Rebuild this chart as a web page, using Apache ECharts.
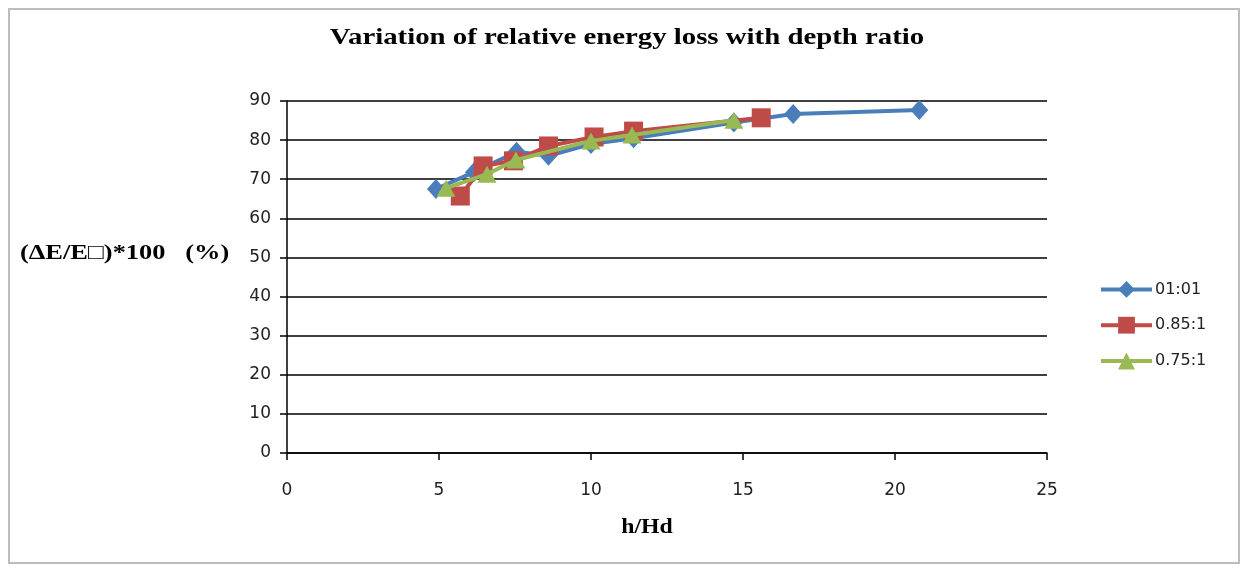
<!DOCTYPE html>
<html>
<head>
<meta charset="utf-8">
<script src="https://cdn.jsdelivr.net/npm/echarts@6/dist/echarts.min.js"></script>
<style>
html,body{margin:0;padding:0;background:#fff;}
#frame{position:absolute;left:8px;top:8px;width:1232px;height:556px;border:2px solid #bdbdbd;box-sizing:border-box;}
#c{position:absolute;left:0;top:0;width:1245px;height:570px;}
</style>
</head>
<body>
<div id="frame"></div>
<div id="c"></div>
<script>
const seriesNames = ['01:01', '0.85:1', '0.75:1'];
const xBlue = [4.9, 6.15, 7.55, 8.6, 10.0, 11.4, 14.7, 16.65, 20.8];
const yBlue = [67.5, 71.8, 77.0, 76.0, 79.0, 80.5, 84.5, 86.7, 87.7];
const xRed = [5.7, 6.45, 7.45, 8.6, 10.1, 11.4, 15.6];
const yRed = [65.7, 73.4, 74.7, 78.5, 80.8, 82.3, 85.7];
const xGreen = [5.23, 6.58, 7.53, 10.0, 11.35, 14.7];
const yGreen = [67.7, 71.3, 74.9, 79.8, 81.3, 85.1];
const xTicks = [0, 5, 10, 15, 20, 25];
const yTicks = [0, 10, 20, 30, 40, 50, 60, 70, 80, 90];
const titleText = 'Variation of relative energy loss with depth ratio';
const xName = 'h/Hd';
const yName = '(\u0394E/E\u25A1)*100   (%)';

const colors = ['#4a7ebb', '#be4b48', '#98b954'];
const symbols = ['diamond', 'rect', 'triangle'];
const symSizes = [[18, 20], [19, 19], [19, 17]];
const xs = [xBlue, xRed, xGreen];
const ys = [yBlue, yRed, yGreen];

const chart = echarts.init(document.getElementById('c'));
const tickFont = {fontFamily: 'DejaVu Sans', fontSize: 17, color: '#222'};
chart.setOption({
  animation: false,
  backgroundColor: 'transparent',
  grid: {left: 287, right: 198, top: 101, bottom: 117},
  legend: {
    orient: 'vertical', left: 1094, top: 276, itemWidth: 51, itemHeight: 21, itemGap: 19,
    lineStyle: {width: 4},
    textStyle: {fontFamily: 'DejaVu Sans', fontSize: 16, color: '#222', padding: [0, 0, 0, -2]},
    data: seriesNames
  },
  xAxis: {
    type: 'value', min: xTicks[0], max: xTicks[xTicks.length - 1], interval: 5,
    axisLine: {lineStyle: {color: '#000', width: 1.5}},
    axisTick: {show: true, length: 7, lineStyle: {color: '#000', width: 1.5}},
    axisLabel: Object.assign({margin: 29}, tickFont),
    splitLine: {show: false}
  },
  yAxis: {
    type: 'value', min: yTicks[0], max: yTicks[yTicks.length - 1], interval: 10,
    axisLine: {show: true, lineStyle: {color: '#000', width: 1.5}},
    axisTick: {show: true, length: 7, lineStyle: {color: '#000', width: 1.5}},
    axisLabel: Object.assign({margin: 16}, tickFont),
    splitLine: {show: true, lineStyle: {color: '#000', width: 1.5}}
  },
  graphic: [{
    type: 'text', x: 627, y: 38, scaleX: 1.2,
    style: {text: titleText, font: 'bold 24px "Liberation Serif"', fill: '#000', align: 'center', verticalAlign: 'middle'}
  }, {
    type: 'text', x: 20, y: 253, scaleX: 1.2,
    style: {text: yName, font: 'bold 22px "Liberation Serif"', fill: '#000', align: 'left', verticalAlign: 'middle'}
  }, {
    type: 'text', x: 647, y: 527, scaleX: 1.08,
    style: {text: xName, font: 'bold 22px "Liberation Serif"', fill: '#000', align: 'center', verticalAlign: 'middle'}
  }],
  series: seriesNames.map((n, i) => ({
    name: n, type: 'line',
    data: xs[i].map((x, j) => [x, ys[i][j]]),
    symbol: symbols[i], symbolSize: symSizes[i],
    itemStyle: {color: colors[i]},
    lineStyle: {color: colors[i], width: 4},
    z: 2 + i
  }))
});
</script>
</body>
</html>
